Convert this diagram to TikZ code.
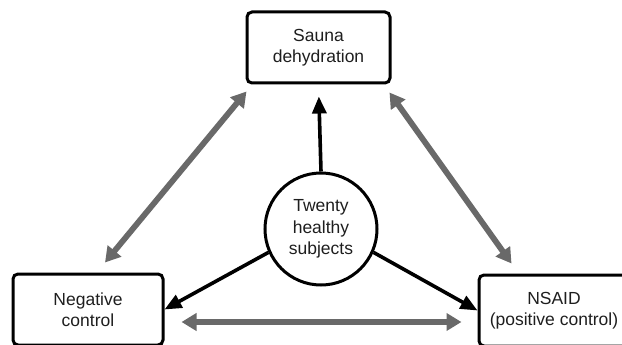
\documentclass[tikz,border=0pt]{standalone}
\usepackage{fontspec}
\setmainfont{Liberation Sans}
\usetikzlibrary{arrows.meta}
\definecolor{arrowgray}{RGB}{105,105,105}
\definecolor{textgray}{RGB}{30,30,30}
\tikzset{
	groupbox/.style={draw, line width=3pt, rounded corners=5pt, align=center,
		minimum width=150pt, minimum height=71pt, inner sep=0pt,
		text=textgray, font=\fontsize{17.5}{21.5}\selectfont},
	subjcircle/.style={draw, circle, line width=3pt, align=center,
		minimum size=112pt, inner sep=0pt,
		text=textgray, font=\fontsize{17.5}{21.5}\selectfont},
	assign/.style={line width=3.6pt, -{Triangle[length=17pt,width=14pt]}},
	compare/.style={line width=5.8pt, arrowgray,
		{Triangle[length=15pt,width=17pt]}-{Triangle[length=15pt,width=17pt]}}
}

\begin{document}
\begin{tikzpicture}[x=1pt, y=-1pt]
	% canvas: 622 x 345, y grows downwards
	\useasboundingbox (0,0) rectangle (622,345);
	
	% the three study arms
	\node[groupbox, minimum width=143pt] (sauna) at (318.5,47.5) {Sauna\\dehydration};
	\node[groupbox] (neg) at (88,309.5) {Negative\\control};
	\node[groupbox] (pos) at (554,310.5) {NSAID\\(positive control)};
	
	% subjects in the middle
	\node[subjcircle] (subj) at (321,229) {Twenty\\healthy\\subjects};
	
	% assignment arrows
	\draw[assign, shorten >=12pt] (subj.north) -- (sauna.south);
	\draw[assign] (subj.204) -- (neg.east);
	\draw[assign] (subj.336) -- (pos.west);
	
	% comparisons between arms
	\draw[compare] ([shift={(17,-10)}]neg.north) -- ([shift={(1,7)}]sauna.south west);
	\draw[compare] ([shift={(-2,8)}]sauna.south east) -- ([shift={(34,-10)}]pos.north west);
	\draw[compare] ([shift={(17,12.5)}]neg.east) -- ([shift={(-16,11.5)}]pos.west);
	
\end{tikzpicture}
\end{document}
